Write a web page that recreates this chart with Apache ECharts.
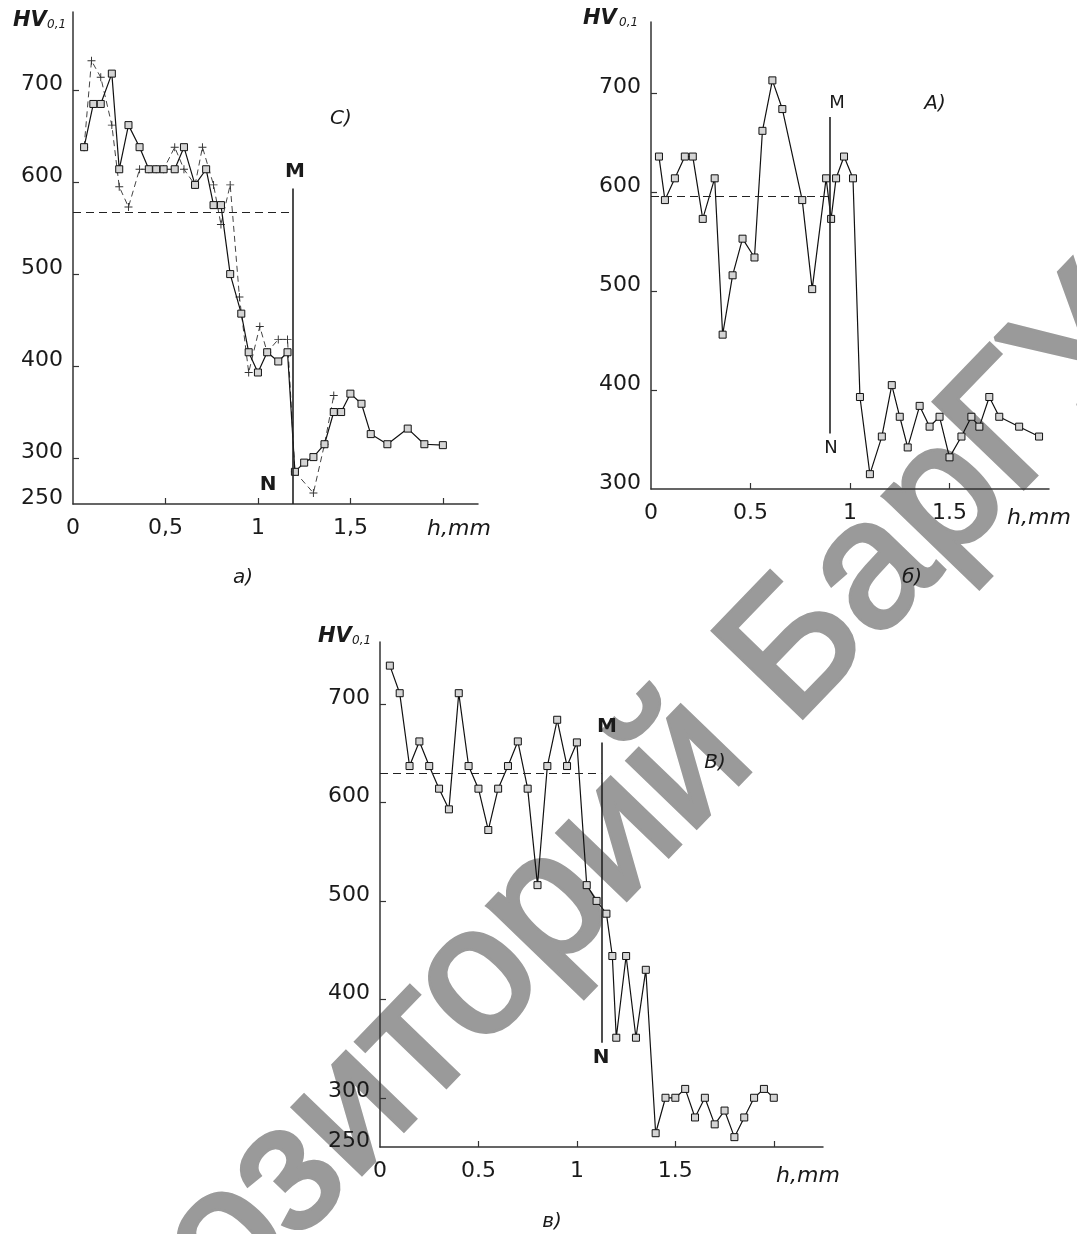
<!DOCTYPE html>
<html>
<head>
<meta charset="utf-8">
<script src="https://cdn.jsdelivr.net/npm/echarts@6/dist/echarts.min.js"></script>
<style>
html,body{margin:0;padding:0;background:#fff;}
#chart{width:1077px;height:1234px;}
</style>
</head>
<body>
<div id="chart"></div>
<script>
// ---------- data: panel a) ----------
var hA = [0.06,0.11,0.15,0.21,0.25,0.30,0.36,0.41,0.45,0.49,0.55,0.60,0.66,0.72,0.76,0.80,0.85,0.91,0.95,1.00,1.05,1.11,1.16,1.20,1.25,1.30,1.36,1.41,1.45,1.50,1.56,1.61,1.70,1.81,1.90,2.00];
var hvA = [638,685,685,718,614,662,638,614,614,614,614,638,597,614,575,575,500,457,415,393,415,405,415,285,295,301,315,350,350,370,359,326,315,332,315,314];
var hA2 = [0.06,0.10,0.15,0.21,0.25,0.30,0.36,0.41,0.45,0.49,0.55,0.60,0.66,0.70,0.76,0.80,0.85,0.90,0.95,1.01,1.05,1.11,1.16,1.20,1.30,1.36,1.41];
var hvA2 = [638,732,714,662,595,573,614,614,614,614,638,614,597,638,597,554,597,475,393,443,415,429,429,285,262,315,368];
var levelA = 567, levelEndA = 1.18, mnA = 1.19, mnTopA = 593;

// ---------- data: panel б) ----------
var hB = [0.04,0.07,0.12,0.17,0.21,0.26,0.32,0.36,0.41,0.46,0.52,0.56,0.61,0.66,0.76,0.81,0.88,0.905,0.93,0.97,1.015,1.05,1.10,1.16,1.21,1.25,1.29,1.35,1.40,1.45,1.50,1.56,1.61,1.65,1.70,1.75,1.85,1.95];
var hvB = [636,592,614,636,636,573,614,456,516,553,534,662,713,684,592,502,614,573,614,636,614,393,315,353,405,373,342,384,363,373,332,353,373,363,393,373,363,353];
var levelB = 596, levelEndB = 0.90, mnB = 0.90, mnTopB = 676, mnBotB = 356;

// ---------- data: panel в) ----------
var hC = [0.05,0.10,0.15,0.20,0.25,0.30,0.35,0.40,0.45,0.50,0.55,0.60,0.65,0.70,0.75,0.80,0.85,0.90,0.95,1.00,1.05,1.10,1.15,1.18,1.20,1.25,1.30,1.35,1.40,1.45,1.50,1.55,1.60,1.65,1.70,1.75,1.80,1.85,1.90,1.95,2.00];
var hvC = [739,711,637,662,637,614,593,711,637,614,572,614,637,662,614,516,637,684,637,661,516,500,487,444,361,444,361,430,264,300,300,309,280,300,273,287,260,280,300,309,300];
var levelC = 630, levelEndC = 1.125, mnC = 1.125, mnTopC = 661, mnBotC = 356;

// ---------- ticks ----------
var yTicksA = [250,300,400,500,600,700];
var yTicksB = [300,400,500,600,700];
var yTicksC = [250,300,400,500,600,700];
var xTicksA = [0,0.5,1,1.5];
var xLabelsA = ['0','0,5','1','1,5'];
var xTicksB = [0,0.5,1,1.5];
var xLabelsB = ['0','0.5','1','1.5'];
var xTicksC = [0,0.5,1,1.5];
var xLabelsC = ['0','0.5','1','1.5'];

function pairs(xs, ys){ return xs.map(function(x,i){ return [x, ys[i]]; }); }

var TXT = '#1a1a1a';
var FONT = 'DejaVu Sans';
var plusPath = 'path://M4.4,0h1.2v4.4h4.4v1.2h-4.4v4.4h-1.2v-4.4h-4.4v-1.2h4.4z';

function xAxisCfg(idx, max, ticks, labels, tickVals){
  return {
    type:'value', gridIndex:idx, min:0, max:max,
    axisLine:{show:true, onZero:false, lineStyle:{color:'#333', width:1.5}},
    axisTick:{show:true, inside:true, length:6, customValues:tickVals, lineStyle:{color:'#333', width:1.2}},
    axisLabel:{show:true, customValues:ticks, margin:13, fontSize:22, fontFamily:FONT, color:TXT,
      formatter:function(v){ var i = ticks.indexOf(v); return i>=0 ? labels[i] : ''; }},
    splitLine:{show:false}
  };
}
function yAxisCfg(idx, min, max, ticks){
  return {
    type:'value', gridIndex:idx, min:min, max:max,
    axisLine:{show:true, onZero:false, lineStyle:{color:'#333', width:1.5}},
    axisTick:{show:true, inside:true, length:6, customValues:ticks.filter(function(t){return t!==min;}), lineStyle:{color:'#333', width:1.2}},
    axisLabel:{show:true, customValues:ticks, margin:10, fontSize:22, fontFamily:FONT, color:TXT,
      verticalAlign:'bottom', lineHeight:12},
    splitLine:{show:false}
  };
}
function refLines(level, levelEnd, mn, bot, top){
  return {
    silent:true, symbol:'none', animation:false,
    label:{show:false},
    data:[
      [{coord:[0,level], lineStyle:{type:[8,5], color:'#222', width:1.2}}, {coord:[levelEnd,level]}],
      [{coord:[mn,bot], lineStyle:{type:'solid', color:'#222', width:1.6}}, {coord:[mn,top]}]
    ]
  };
}
function solidSeries(idx, data, ml){
  var s = {
    type:'line', xAxisIndex:idx, yAxisIndex:idx, data:data,
    symbol:'rect', symbolSize:7, showAllSymbol:true,
    lineStyle:{color:'#111', width:1.2},
    itemStyle:{color:'#d4d4d4', borderColor:'#111', borderWidth:1},
    animation:false, z:3
  };
  if(ml) s.markLine = ml;
  return s;
}

function txt(x,y,text,opt){
  opt = opt || {};
  return {type:'text', x:x, y:y, z:10, style:{
    text:text, fontSize:opt.size||20, fontFamily:opt.family||FONT,
    fontStyle:opt.style||'normal', fontWeight:opt.weight||'normal',
    fill:opt.fill||TXT, align:opt.align||'center', verticalAlign:'middle'}};
}

var graphics = [
  // watermark
  {type:'text', x:551, y:906, rotation:0.803, z:-5, silent:true, style:{
    text:'Репозиторий БарГУ', fontSize:180, fontFamily:'Liberation Sans', fontWeight:'normal',
    fill:'#9a9a9a', stroke:'#9a9a9a', lineWidth:5, align:'center', verticalAlign:'middle'}},
  // axis titles
  txt(13,21,'HV',{size:21,style:'italic',weight:'bold',align:'left'}),
  txt(47,24.5,'0,1',{size:12,style:'italic',align:'left'}),
  txt(583,19,'HV',{size:21,style:'italic',weight:'bold',align:'left'}),
  txt(619,23,'0,1',{size:12,style:'italic',align:'left'}),
  txt(318,637,'HV',{size:21,style:'italic',weight:'bold',align:'left'}),
  txt(352,641,'0,1',{size:12,style:'italic',align:'left'}),
  // h,mm
  txt(459,529,'h,mm',{size:22,style:'italic'}),
  txt(1039,518,'h,mm',{size:22,style:'italic'}),
  txt(808,1176,'h,mm',{size:22,style:'italic'}),
  // M / N
  txt(295,172,'M',{size:20,weight:'bold'}),
  txt(268,485,'N',{size:20,weight:'bold'}),
  txt(837,103,'M',{size:18}),
  txt(831,448,'N',{size:18}),
  txt(607,727,'M',{size:20,weight:'bold'}),
  txt(601,1058,'N',{size:20,weight:'bold'}),
  // curve labels
  txt(341,119,'C)',{size:20,style:'italic'}),
  txt(935,104,'A)',{size:20,style:'italic'}),
  txt(715,763,'B)',{size:20,style:'italic'}),
  // captions
  txt(243,578,'a)',{size:20,style:'italic'}),
  txt(912,578,'б)',{size:20,style:'italic'}),
  txt(552,1222,'в)',{size:20,style:'italic'})
];

var option = {
  backgroundColor:'#ffffff',
  animation:false,
  grid:[
    {left:73, top:12, width:405, height:492, outerBoundsMode:'none'},
    {left:651, top:22, width:398, height:467, outerBoundsMode:'none'},
    {left:380, top:642, width:443, height:505, outerBoundsMode:'none'}
  ],
  xAxis:[
    xAxisCfg(0, 2.19, xTicksA, xLabelsA, [0.5,1,1.5,2]),
    xAxisCfg(1, 2.0, xTicksB, xLabelsB, [0.5,1,1.5]),
    xAxisCfg(2, 2.25, xTicksC, xLabelsC, [0.5,1,1.5,2])
  ],
  yAxis:[
    yAxisCfg(0, 250, 785, yTicksA),
    yAxisCfg(1, 300, 772, yTicksB),
    yAxisCfg(2, 250, 763, yTicksC)
  ],
  series:[
    {
      type:'line', xAxisIndex:0, yAxisIndex:0, data:pairs(hA2,hvA2),
      symbol:plusPath, symbolSize:8, showAllSymbol:true,
      lineStyle:{color:'#444', width:1, type:[6,4]},
      itemStyle:{color:'#333'},
      animation:false, z:2
    },
    solidSeries(0, pairs(hA,hvA), refLines(levelA, levelEndA, mnA, 250, mnTopA)),
    solidSeries(1, pairs(hB,hvB), refLines(levelB, levelEndB, mnB, mnBotB, mnTopB)),
    solidSeries(2, pairs(hC,hvC), refLines(levelC, levelEndC, mnC, mnBotC, mnTopC))
  ],
  graphic:graphics
};

var chart = echarts.init(document.getElementById('chart'), null, {renderer:'canvas'});
chart.setOption(option);
</script>
</body>
</html>
